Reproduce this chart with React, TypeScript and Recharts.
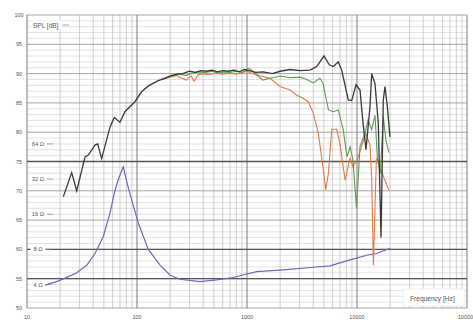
import React from 'react';
import { LineChart, Line, XAxis, YAxis, CartesianGrid, ReferenceLine } from 'recharts';

const FREQ_TICKS = [10, 100, 1000, 10000, 100000];
const SPL_TICKS = [50, 55, 60, 65, 70, 75, 80, 85, 90, 95, 100];
const IMP_TICKS = [54, 60, 66, 72, 78];
const IMP_LABELS = ['4 Ω', '8 Ω', '16 Ω', '32 Ω', '64 Ω'];
const DECADES = [10, 100, 1000, 10000];
const MINOR_MULT = [2, 3, 4, 5, 6, 7, 8, 9];
const HEAVY_DB = [55, 60, 75];

const BLACK: [number, number][] = [
  [21.4, 69.0], [25.5, 73.1], [28.3, 70.0], [33.7, 75.8], [36, 76.1], [41.5, 77.8], [43.9, 78.0], [47.7, 75.5],
  [56.9, 80.9], [62.2, 82.5], [70, 81.7], [77.7, 83.5], [95.7, 85.2], [110, 86.9], [127, 87.9], [156, 88.8],
  [179, 89.2], [200, 89.6], [230, 89.9], [260, 90.0], [300, 90.4], [340, 90.2], [380, 90.5], [430, 90.4],
  [480, 90.6], [540, 90.3], [600, 90.5], [680, 90.4], [760, 90.6], [850, 90.3], [950, 90.7], [1050, 90.5],
  [1200, 90.2], [1400, 90.3], [1700, 90.0], [2000, 90.4], [2460, 90.7], [3030, 90.5], [3740, 90.6],
  [4300, 91.2], [5010, 93.0], [5600, 91.5], [6090, 91.2], [6760, 92.0], [7260, 90.6], [8330, 85.5],
  [8950, 85.4], [9790, 88.1], [10650, 87.2], [11270, 82.1], [12070, 77.0], [13130, 84.4], [13600, 90.0],
  [14570, 88.3], [15620, 81.5], [16530, 62.0], [17340, 85.5], [17970, 87.8], [18860, 84.4], [19950, 79.2],
];

const GREEN: [number, number][] = [
  [165, 89.0], [200, 89.5], [240, 89.9], [280, 89.7], [320, 90.1], [370, 90.3], [420, 90.2], [480, 90.4],
  [550, 90.1], [620, 90.3], [700, 90.2], [800, 90.4], [900, 90.2], [1000, 90.7], [1050, 90.9], [1230, 89.8],
  [1390, 88.9], [1620, 89.2], [2000, 89.6], [2460, 89.3], [3030, 89.4], [3500, 89.0], [4000, 88.4],
  [4600, 89.2], [4900, 88.4], [5500, 83.8], [6090, 83.5], [6760, 83.8], [7500, 80.4], [8100, 75.8],
  [8650, 77.5], [9180, 75.3], [9900, 67.0], [10650, 77.6], [11800, 79.8], [12600, 82.1], [13600, 80.4],
  [14570, 82.9], [15300, 75.8], [16300, 73.0], [17340, 82.7], [18300, 78.7], [19500, 76.5],
];

const ORANGE: [number, number][] = [
  [165, 89.0], [200, 89.4], [230, 89.7], [250, 89.3], [280, 88.9], [310, 89.6], [330, 88.7], [360, 89.8],
  [400, 90.0], [450, 89.8], [520, 90.1], [600, 89.9], [700, 90.1], [800, 89.9], [900, 90.2], [1000, 90.4],
  [1200, 89.8], [1390, 89.5], [1620, 89.2], [2000, 87.8], [2460, 87.2], [2840, 86.3], [3230, 85.8],
  [3600, 85.2], [4000, 83.3], [4450, 79.8], [4900, 74.1], [5200, 70.2], [5500, 73.0], [5900, 80.5],
  [6540, 80.5], [7000, 78.0], [7800, 71.8], [8650, 75.6], [9200, 74.1], [10200, 75.6], [11200, 78.1],
  [12000, 79.8], [13130, 77.8], [13600, 72.0], [14100, 57.3], [15000, 75.5], [17340, 72.5], [19500, 70.1],
];

const IMPEDANCE: [number, number][] = [
  [14.6, 53.9], [18.6, 54.5], [22.2, 55.1], [28.3, 56.0], [34.9, 57.3], [41.5, 59.3], [49.4, 62.2],
  [56.8, 66.2], [63.1, 70.1], [68.8, 72.3], [75.1, 74.1], [82, 71.0], [89.5, 68.4], [102.7, 64.5],
  [126.7, 60.0], [162, 57.3], [200, 55.6], [246, 54.9], [374, 54.5], [530, 54.8], [751, 55.2], [994, 55.8],
  [1225, 56.2], [2140, 56.5], [4300, 57.0], [5680, 57.2], [8640, 58.2], [12250, 59.0], [15100, 59.3],
  [19950, 60.2],
];

const toRows = (a: [number, number][]) => a.map(([f, v]) => ({ f, v }));

const minorFreqs: number[] = [];
DECADES.forEach((d) => MINOR_MULT.forEach((m) => minorFreqs.push(d * m)));
const minorDb: number[] = [];
for (let v = 51; v < 100; v++) if (v % 5 !== 0) minorDb.push(v);

const FONT = '"Liberation Sans", Arial, sans-serif';
const TXT = '#555';

const YTick = (p: any) => (
  <text x={p.x} y={p.y} textAnchor="middle" dominantBaseline="central" fontSize={5.5} fill={TXT} fontFamily={FONT}>
    {p.payload.value}
  </text>
);

const XTick = (p: any) => (
  <text x={p.x} y={p.y + 1} textAnchor="middle" dominantBaseline="central" fontSize={5.5} fill={TXT} fontFamily={FONT}>
    {p.payload.value}
  </text>
);

const makeImpLabel = (label: string) => (p: any) => {
  const vb = p.viewBox || { x: 27, y: 0 };
  const w = 6 + label.length * 3;
  const cx = vb.x + 11;
  const y = vb.y;
  return (
    <g>
      <rect x={cx - w / 2} y={y - 3.5} width={w} height={7} fill="#fff" />
      <line x1={cx + w / 2} x2={cx + w / 2 + 6} y1={y} y2={y} stroke="#888" strokeWidth={0.7} />
      <text x={cx} y={y} textAnchor="middle" dominantBaseline="central" fontSize={5.8} fill={TXT} fontFamily={FONT}>
        {label}
      </text>
    </g>
  );
};

const SplLabel = (p: any) => {
  const vb = p.viewBox || { x: 0, y: 15, width: 27 };
  const x = vb.x + vb.width + 6;
  const y = vb.y + 10;
  return (
    <g>
      <rect x={x - 2} y={y - 4.5} width={31} height={9} fill="#fff" />
      <line x1={x + 29} x2={x + 36} y1={y} y2={y} stroke="#888" strokeWidth={0.7} />
      <text x={x} y={y} dominantBaseline="central" fontSize={6.5} fill={TXT} fontFamily={FONT}>SPL [dB]</text>
    </g>
  );
};

const FreqLabel = (p: any) => {
  const vb = p.viewBox || { x: 27, y: 308, width: 440 };
  const right = vb.x + vb.width;
  const y = vb.y - 10;
  return (
    <g>
      <rect x={right - 64} y={y - 9} width={62} height={17} fill="#fff" stroke="#e4e4e4" strokeWidth={0.6} />
      <text x={right - 57} y={y} dominantBaseline="central" fontSize={6.6} fill={TXT} fontFamily={FONT}>Frequency [Hz]</text>
    </g>
  );
};

export default function App() {
  return (
    <div style={{ position: 'absolute', left: 0, top: 0, width: 473, height: 320, background: '#fff' }}>
      <LineChart width={473} height={320} margin={{ top: 15, right: 6, bottom: 0, left: 0 }}>
        <CartesianGrid horizontal vertical={false} horizontalValues={minorDb} stroke="#d6d6d6" strokeWidth={0.7} />
        <CartesianGrid horizontal={false} vertical verticalValues={minorFreqs} stroke="#bdbdbd" strokeWidth={0.7} />
        <CartesianGrid horizontal vertical={false} horizontalValues={SPL_TICKS} stroke="#9a9a9a" strokeWidth={0.9} />
        <CartesianGrid horizontal={false} vertical verticalValues={FREQ_TICKS} stroke="#7a7a7a" strokeWidth={1} />
        <CartesianGrid horizontal vertical={false} horizontalValues={HEAVY_DB} stroke="#555" strokeWidth={1.3} />
        <XAxis
          dataKey="f"
          type="number"
          scale="log"
          domain={[10, 100000]}
          ticks={FREQ_TICKS}
          allowDataOverflow
          height={12}
          axisLine={false}
          tickLine={false}
          tick={<XTick />}
          interval={0}
          label={{ content: FreqLabel } as any}
        />
        <YAxis
          type="number"
          domain={[50, 100]}
          ticks={SPL_TICKS}
          width={27}
          axisLine={false}
          tickLine={false}
          tick={<YTick />}
          interval={0}
          label={{ content: SplLabel } as any}
        />
        {IMP_TICKS.map((v, i) => (
          <ReferenceLine key={v} y={v} stroke="none" label={{ content: makeImpLabel(IMP_LABELS[i]) } as any} />
        ))}
        <Line data={toRows(IMPEDANCE)} dataKey="v" stroke="#6f66bd" strokeWidth={1.2} dot={false} isAnimationActive={false} type="linear" />
        <Line data={toRows(ORANGE)} dataKey="v" stroke="#e27a46" strokeWidth={1.1} dot={false} isAnimationActive={false} type="linear" />
        <Line data={toRows(GREEN)} dataKey="v" stroke="#5f9a4f" strokeWidth={1.1} dot={false} isAnimationActive={false} type="linear" />
        <Line data={toRows(BLACK)} dataKey="v" stroke="#383838" strokeWidth={1.3} dot={false} isAnimationActive={false} type="linear" />
      </LineChart>
    </div>
  );
}
